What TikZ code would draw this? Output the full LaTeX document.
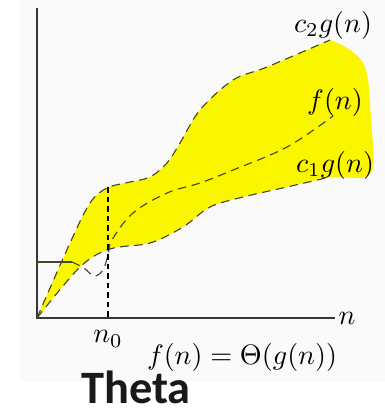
\documentclass[tikz,border=0pt]{standalone}
\usepackage{fontspec}
\usepackage{amsmath}
\usepackage{xcolor}
\usetikzlibrary{positioning}
\newfontfamily\captionfont{Carlito}
\definecolor{hiliteyellow}{RGB}{250,246,0}
\definecolor{axisgray}{RGB}{55,55,55}
\definecolor{curvegray}{RGB}{70,70,40}
\definecolor{paperwhite}{RGB}{250,250,250}

\tikzset{
  axis/.style={draw=axisgray, line width=0.7pt},
  bound/.style={draw=curvegray, line width=0.4pt, densely dashed},
  lbl/.style={inner sep=1pt, font=\normalsize}
}

\begin{document}
\begin{tikzpicture}[x=0.0125cm, y=-0.0125cm]
    \useasboundingbox (0,0) rectangle (385,415);
    \fill[paperwhite] (20,0) rectangle (385,382);

    % band between the two bounds
    \fill[hiliteyellow] plot[smooth, tension=0.55] coordinates {(37,318) (70,243) (90,203) (107,188) (130,182) (150,177) (167,163) (180,143) (200,110) (233,80) (267,67) (330,40)}
        -- plot[smooth, tension=0.6] coordinates {(330,40) (350,50) (366,70) (371,120) (373,168) (360,178)}
        -- plot[smooth, tension=0.55] coordinates {(330,177) (287,187) (243,197) (210,207) (183,227) (150,243) (110,249) (80,267) (37,318)}
        -- cycle;

    % axes
    \coordinate (O) at (37,318);
    \coordinate (ytop) at (37,8);
    \coordinate (xend) at (335,318);
    \draw[axis] (ytop) -- (O) -- (xend);
    \node[lbl] (nlab) at (347,318) {$n$};

    % curves
    \draw[bound] plot[smooth, tension=0.55] coordinates {(37,318) (70,243) (90,203) (107,188) (130,182) (150,177) (167,163) (180,143) (200,110) (233,80) (267,67) (330,40)};
    \draw[bound] plot[smooth, tension=0.55] coordinates {(37,318) (80,267) (110,249) (150,243) (183,227) (210,207) (243,197) (287,187) (330,177)};
    \draw[draw=curvegray, line width=0.4pt] (37,262) -- (72,262);
    \draw[bound] plot[smooth, tension=0.6] coordinates {(72,262) (84,268) (94,276) (103,270) (108,255) (112,240) (133,213) (167,193) (200,183) (233,170) (287,147) (333,116)};

    % threshold
    \node[lbl] (n0) at (108,339) {$n_0$};
    \coordinate (n0top) at (108,187);
    \coordinate (n0foot) at (108,318);
    \draw[draw=black, line width=0.75pt, dash pattern=on 2pt off 1.4pt] (n0top) -- (n0foot);

    % labels
    \node[lbl] (c2lab) at (333,25) {$c_2g(n)$};
    \node[lbl] (flab) at (335,102) {$f(n)$};
    \node[lbl] (c1lab) at (335,165) {$c_1g(n)$};
    \node[lbl] (thetalab) at (242,357) {$f(n) = \Theta(g(n))$};
    \node[font=\captionfont\bfseries\fontsize{16.5}{20}\selectfont, text=black!90] (caption) at (136,387) {Theta};
\end{tikzpicture}
\end{document}
